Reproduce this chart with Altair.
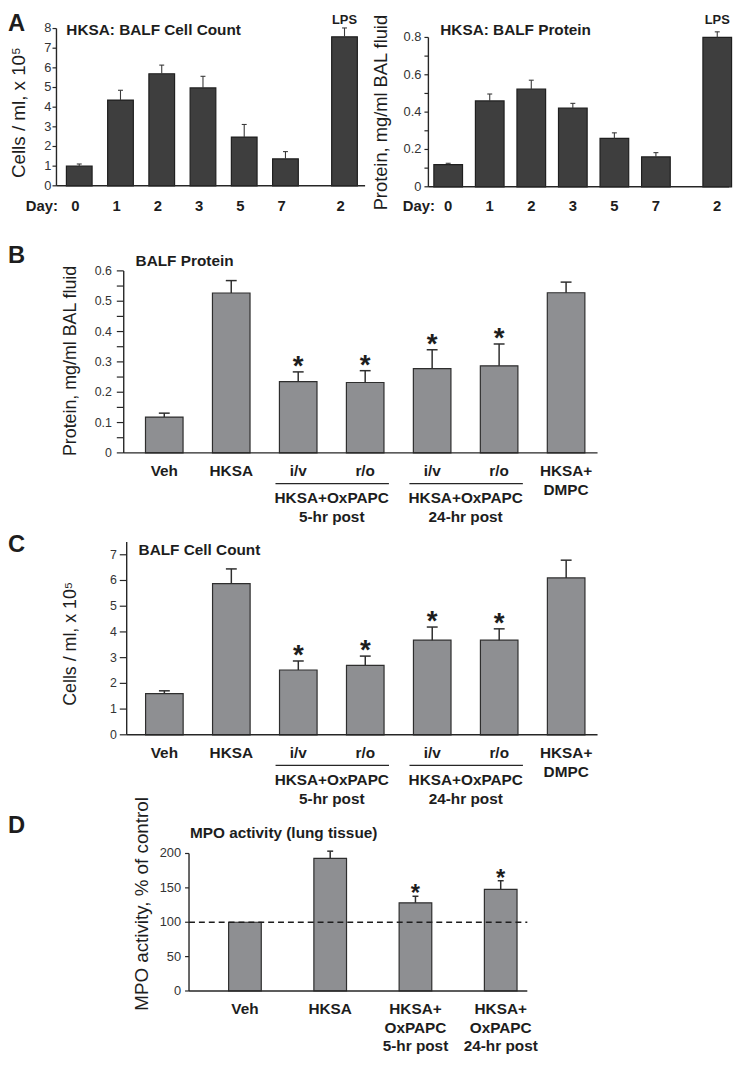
import altair as alt
import pandas as pd

FONT = "Liberation Sans"
INK = "#1d1d1d"
AXIS_INK = "#262626"
LABEL_INK = "#333333"
DARK_FILL = "#3e3e3e"
DARK_EDGE = "#1f1f1f"
GREY_FILL = "#8e8f92"
GREY_EDGE = "#2e2e2e"

# ---------------- values ----------------
# Panel A: HKSA time course (LPS day 2 for comparison)
a_groups = ["Day 0", "Day 1", "Day 2", "Day 3", "Day 5", "Day 7", "LPS"]
a_tick_labels = ["0", "1", "2", "3", "5", "7", "2"]
a_cell_count = [1.0, 4.36, 5.70, 4.98, 2.48, 1.37, 7.58]
a_cell_count_err = [0.11, 0.50, 0.44, 0.59, 0.64, 0.37, 0.45]
a_protein = [0.119, 0.46, 0.523, 0.422, 0.259, 0.16, 0.80]
a_protein_err = [0.007, 0.037, 0.048, 0.025, 0.030, 0.023, 0.030]
a_significant = [False, False, False, False, False, False, False]
a_cell_ticks = [0, 1, 2, 3, 4, 5, 6, 7, 8]
a_cell_tick_text = ["0", "1", "2", "3", "4", "5", "6", "7", "8"]
a_protein_ticks = [0, 0.1, 0.2, 0.3, 0.4, 0.5, 0.6, 0.7, 0.8]
a_protein_tick_text = ["0", "", "0.2", "", "0.4", "", "0.6", "", "0.8"]

# Panels B and C
bc_groups = ["Veh", "HKSA", "i/v 5-hr", "r/o 5-hr", "i/v 24-hr", "r/o 24-hr", "HKSA+DMPC"]
bc_tick_labels = ["Veh", "HKSA", "i/v", "r/o", "i/v", "r/o", "HKSA+\nDMPC"]
bc_significant = [False, False, True, True, True, True, False]
b_protein = [0.118, 0.527, 0.235, 0.232, 0.278, 0.287, 0.528]
b_protein_err = [0.013, 0.041, 0.032, 0.039, 0.062, 0.072, 0.035]
b_protein_ticks = [0, 0.05, 0.1, 0.15, 0.2, 0.25, 0.3, 0.35, 0.4, 0.45, 0.5, 0.55, 0.6]
b_protein_tick_text = ["0", "", "0.1", "", "0.2", "", "0.3", "", "0.4", "", "0.5", "", "0.6"]
c_cell_count = [1.60, 5.88, 2.52, 2.70, 3.68, 3.68, 6.10]
c_cell_count_err = [0.11, 0.57, 0.35, 0.36, 0.51, 0.44, 0.69]
c_cell_ticks = [0, 1, 2, 3, 4, 5, 6, 7]
c_cell_tick_text = ["0", "1", "2", "3", "4", "5", "6", "7"]
bc_bracket_first = ["i/v 5-hr", "i/v 24-hr"]
bc_bracket_last = ["r/o 5-hr", "r/o 24-hr"]
bc_bracket_labels = ["HKSA+OxPAPC\n5-hr post", "HKSA+OxPAPC\n24-hr post"]

# Panel D
d_groups = ["Veh", "HKSA", "OxPAPC 5-hr", "OxPAPC 24-hr"]
d_tick_labels = ["Veh", "HKSA", "HKSA+\nOxPAPC\n5-hr post", "HKSA+\nOxPAPC\n24-hr post"]
d_mpo = [100, 192.8, 128.2, 147.9]
d_mpo_err = [0, 10.6, 9.6, 12.5]
d_significant = [False, False, True, True]
d_mpo_ticks = [0, 50, 100, 150, 200]
d_mpo_tick_text = ["0", "50", "100", "150", "200"]
d_control_level = [100]

# ---------------- page layout (pixels inside the 738 x 1052 view) ----------------
W, H = 738, 1052
GA1 = dict(x0=49, x1=361, yb=174, yt=15)
GA2 = dict(x0=425, x1=729, yb=175, yt=24)
GB = dict(x0=117, x1=596, yb=444, yt=260)
GC = dict(x0=120, x1=596, yb=729, yt=534)
GD = dict(x0=183, x1=525, yb=988, yt=849)


def note(text, x, y, size, weight="bold", baseline="alphabetic", align="left", angle=0):
    return alt.Chart(pd.DataFrame({"t": [text]})).mark_text(
        fontSize=size, fontWeight=weight, baseline=baseline, align=align, color=INK, angle=angle
    ).encode(text="t:N", x=alt.value(x), y=alt.value(y))


def y_axis_layers(ys, geo, dom, ticks, tick_text, tick_len, label_gap, label_size):
    tdf = pd.DataFrame({"v": ticks, "lab": tick_text})
    ddf = pd.DataFrame({"lo": [dom[0]], "hi": [dom[1]]})
    x0 = geo["x0"]
    line = alt.Chart(ddf).mark_rule(color=AXIS_INK, strokeWidth=1.4).encode(
        x=alt.value(x0), y=alt.Y("lo:Q", scale=ys, axis=None), y2="hi:Q")
    tk = alt.Chart(tdf).mark_rule(color=AXIS_INK, strokeWidth=1.2).encode(
        x=alt.value(x0 - tick_len), x2=alt.value(x0), y=alt.Y("v:Q", scale=ys, axis=None))
    lb = alt.Chart(tdf).mark_text(
        align="right", baseline="middle", fontSize=label_size, color=LABEL_INK).encode(
        x=alt.value(x0 - label_gap), y=alt.Y("v:Q", scale=ys, axis=None), text="lab:N")
    base_line = alt.Chart(ddf).mark_rule(color=AXIS_INK, strokeWidth=1.4).encode(
        x=alt.value(x0), x2=alt.value(geo["x1"]), y=alt.Y("lo:Q", scale=ys, axis=None))
    return [line, tk, lb, base_line]


def bar_layers(df, xs, ys, *, fill, edge, err_color, err_w, cap, shift,
               star_size, star_dy, lab_y, lab_lh, lab_dx=0, lab_size=15):
    base = alt.Chart(df).transform_calculate(upper="datum.value + datum.err")

    def X():
        return alt.X("grp:N", scale=xs, axis=None, title=None)

    bars = base.mark_bar(fill=fill, stroke=edge, strokeWidth=1.2, xOffset=shift).encode(
        x=X(), y=alt.Y("value:Q", scale=ys, axis=None))
    errs = base.transform_filter("datum.err > 0")
    stems = errs.mark_rule(color=err_color, strokeWidth=err_w, xOffset=shift).encode(
        x=X(), y=alt.Y("value:Q", scale=ys, axis=None), y2="upper:Q")
    caps = errs.mark_tick(orient="horizontal", size=cap, thickness=err_w, color=err_color,
                          opacity=1, xOffset=shift).encode(
        x=X(), y=alt.Y("upper:Q", scale=ys, axis=None))
    stars = base.transform_filter("datum.sig").mark_text(
        text="*", fontSize=star_size, fontWeight="bold", baseline="alphabetic",
        align="center", dy=star_dy, color=INK).encode(
        x=X(), y=alt.Y("upper:Q", scale=ys, axis=None))
    labels = base.mark_text(
        fontSize=lab_size, fontWeight="bold", align="center", baseline="alphabetic",
        lineBreak="\n", lineHeight=lab_lh, color=INK, xOffset=shift, dx=lab_dx).encode(
        x=X(), y=alt.value(lab_y), text="tick:N")
    return [bars, stems, caps, stars, labels]


def bracket_layers(xs, geo, pinner, pouter, n):
    step = (geo["x1"] - geo["x0"]) / (n - pinner + 2 * pouter)
    df = pd.DataFrame({"first": bc_bracket_first, "last": bc_bracket_last,
                       "label": bc_bracket_labels})
    line = alt.Chart(df).mark_rule(color=AXIS_INK, strokeWidth=1.3, xOffset=-4, x2Offset=5).encode(
        x=alt.X("first:N", scale=xs, axis=None, bandPosition=0),
        x2=alt.X2("last:N", bandPosition=1),
        y=alt.value(geo["yb"] + 31))
    text = alt.Chart(df).mark_text(
        fontSize=15.5, fontWeight="bold", align="center", baseline="alphabetic",
        lineBreak="\n", lineHeight=19, color=INK, xOffset=step / 2).encode(
        x=alt.X("first:N", scale=xs, axis=None),
        y=alt.value(geo["yb"] + 50.5), text="label:N")
    return [line, text]


layers = []

# ---------------- Panel A, left ----------------
a1 = pd.DataFrame({"grp": a_groups, "tick": a_tick_labels, "value": a_cell_count,
                   "err": a_cell_count_err, "sig": a_significant})
a1_xs = alt.Scale(type="band", domain=a_groups, range=[GA1["x0"], GA1["x1"]],
                  paddingInner=0.377, paddingOuter=0.43, align=0.28)
a1_ys = alt.Scale(domain=[0, 8], range=[GA1["yb"], GA1["yt"]], nice=False, zero=False)
a1_shift = alt.ExprRef(expr="datum.grp === 'LPS' ? 18 : 0")
layers += bar_layers(a1, a1_xs, a1_ys, fill=DARK_FILL, edge=DARK_EDGE, err_color="#3a3a3a",
                     err_w=1.1, cap=5, shift=a1_shift, star_size=26, star_dy=3,
                     lab_y=GA1["yb"] + 25, lab_lh=18, lab_dx=-4)
layers += y_axis_layers(a1_ys, GA1, [0, 8], a_cell_ticks, a_cell_tick_text, 4, 5, 13)
layers += [
    alt.Chart(a1).transform_filter("datum.grp === 'LPS'").mark_text(
        text="LPS", fontSize=13, fontWeight="bold", align="center", baseline="alphabetic",
        color=INK, xOffset=18).encode(x=alt.X("grp:N", scale=a1_xs, axis=None), y=alt.value(10)),
    note("A", 0, 17, 24),
    note("HKSA: BALF Cell Count", 59, 22, 15.5),
    note("Day:", 18, GA1["yb"] + 25, 15),
    note("Cells / ml, x 10⁵", 11, 100, 19, weight="normal", baseline="middle",
         align="center", angle=270),
]

# ---------------- Panel A, right ----------------
a2 = pd.DataFrame({"grp": a_groups, "tick": a_tick_labels, "value": a_protein,
                   "err": a_protein_err, "sig": a_significant})
a2_xs = alt.Scale(type="band", domain=a_groups, range=[GA2["x0"], GA2["x1"]],
                  paddingInner=0.31, paddingOuter=0.274, align=0.24)
a2_ys = alt.Scale(domain=[0, 0.8], range=[GA2["yb"], GA2["yt"]], nice=False, zero=False)
a2_shift = alt.ExprRef(expr="datum.grp === 'LPS' ? 20 : 0")
layers += bar_layers(a2, a2_xs, a2_ys, fill=DARK_FILL, edge=DARK_EDGE, err_color="#3a3a3a",
                     err_w=1.1, cap=5, shift=a2_shift, star_size=26, star_dy=3,
                     lab_y=GA2["yb"] + 24, lab_lh=18)
layers += y_axis_layers(a2_ys, GA2, [0, 0.8], a_protein_ticks, a_protein_tick_text, 4, 7, 13)
layers += [
    alt.Chart(a2).transform_filter("datum.grp === 'LPS'").mark_text(
        text="LPS", fontSize=13, fontWeight="bold", align="center", baseline="alphabetic",
        color=INK, xOffset=20).encode(x=alt.X("grp:N", scale=a2_xs, axis=None), y=alt.value(10)),
    note("HKSA: BALF Protein", 437, 22, 15.5),
    note("Day:", 399, GA2["yb"] + 24, 15),
    note("Protein, mg/ml BAL fluid", 377, 100, 18.5, weight="normal", baseline="middle",
         align="center", angle=270),
]

# ---------------- Panel B ----------------
B_PI, B_PO = 0.439, 0.257
b = pd.DataFrame({"grp": bc_groups, "tick": bc_tick_labels, "value": b_protein,
                  "err": b_protein_err, "sig": bc_significant})
b_xs = alt.Scale(type="band", domain=bc_groups, range=[GB["x0"], GB["x1"]],
                 paddingInner=B_PI, paddingOuter=B_PO, align=0.632)
b_ys = alt.Scale(domain=[0, 0.6], range=[GB["yb"], GB["yt"]], nice=False, zero=False)
layers += bar_layers(b, b_xs, b_ys, fill=GREY_FILL, edge=GREY_EDGE, err_color=GREY_EDGE,
                     err_w=1.5, cap=11, shift=0, star_size=28, star_dy=3,
                     lab_y=GB["yb"] + 23, lab_lh=20, lab_size=15.5)
layers += bracket_layers(b_xs, GB, B_PI, B_PO, len(bc_groups))
layers += y_axis_layers(b_ys, GB, [0, 0.6], b_protein_ticks, b_protein_tick_text, 7, 12, 12.5)
layers += [
    note("B", 0, 252, 24),
    note("BALF Protein", 129, 255, 15.5),
    note("Protein, mg/ml BAL fluid", 64, 351, 18, weight="normal", baseline="middle",
         align="center", angle=270),
]

# ---------------- Panel C ----------------
C_PI, C_PO = 0.439, 0.235
c = pd.DataFrame({"grp": bc_groups, "tick": bc_tick_labels, "value": c_cell_count,
                  "err": c_cell_count_err, "sig": bc_significant})
c_xs = alt.Scale(type="band", domain=bc_groups, range=[GC["x0"], GC["x1"]],
                 paddingInner=C_PI, paddingOuter=C_PO, align=0.6)
c_ys = alt.Scale(domain=[0, 7.5], range=[GC["yb"], GC["yt"]], nice=False, zero=False)
layers += bar_layers(c, c_xs, c_ys, fill=GREY_FILL, edge=GREY_EDGE, err_color=GREY_EDGE,
                     err_w=1.5, cap=11, shift=0, star_size=28, star_dy=3,
                     lab_y=GC["yb"] + 23, lab_lh=20, lab_size=15.5)
layers += bracket_layers(c_xs, GC, C_PI, C_PO, len(bc_groups))
layers += y_axis_layers(c_ys, GC, [0, 7.5], c_cell_ticks, c_cell_tick_text, 7, 10, 12.5)
layers += [
    note("C", 0, 544, 24),
    note("BALF Cell Count", 132, 547, 15.5),
    note("Cells / ml, x 10⁵", 64, 637, 18, weight="normal", baseline="middle",
         align="center", angle=270),
]

# ---------------- Panel D ----------------
d = pd.DataFrame({"grp": d_groups, "tick": d_tick_labels, "value": d_mpo,
                  "err": d_mpo_err, "sig": d_significant})
d_xs = alt.Scale(type="band", domain=d_groups, range=[GD["x0"], GD["x1"]],
                 paddingInner=0.617, paddingOuter=0.2925, align=0.794)
d_ys = alt.Scale(domain=[0, 200], range=[GD["yb"], GD["yt"]], nice=False, zero=False)
layers += bar_layers(d, d_xs, d_ys, fill=GREY_FILL, edge=GREY_EDGE, err_color=GREY_EDGE,
                     err_w=1.5, cap=6, shift=0, star_size=24, star_dy=5,
                     lab_y=GD["yb"] + 23, lab_lh=19, lab_size=15.5)
layers += y_axis_layers(d_ys, GD, [0, 200], d_mpo_ticks, d_mpo_tick_text, 4, 8, 13)
layers += [
    alt.Chart(pd.DataFrame({"level": d_control_level})).mark_rule(
        strokeDash=[6, 4], color=INK, strokeWidth=1.3).encode(
        x=alt.value(GD["x0"]), x2=alt.value(GD["x1"]),
        y=alt.Y("level:Q", scale=d_ys, axis=None)),
    note("D", 0, 828, 24),
    note("MPO activity (lung tissue)", 184, 833, 15.5),
    note("MPO activity, % of control", 136, 900, 19, weight="normal", baseline="middle",
         align="center", angle=270),
]

chart = alt.layer(*layers).resolve_scale(x="independent", y="independent").properties(
    width=W, height=H, padding=0, autosize=alt.AutoSizeParams(type="none")
).configure(font=FONT).configure_view(strokeWidth=0)

chart.save("out.html", embed_options={"renderer": "svg", "actions": False})
